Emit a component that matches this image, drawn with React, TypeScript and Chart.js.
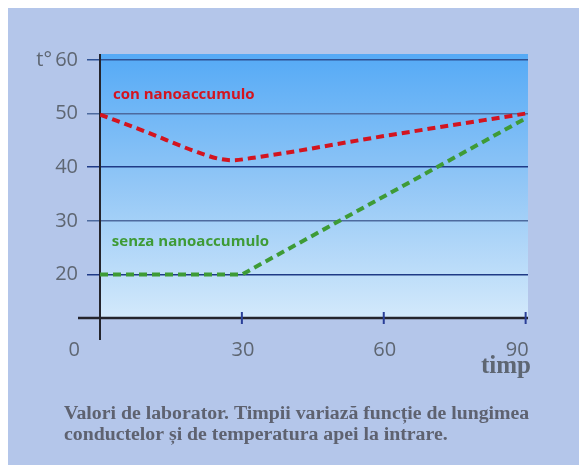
import React, { useEffect, useRef } from "react";
import { Chart, registerables } from "chart.js";

Chart.register(...registerables);

// ---- data ----
const conX = [0, 10, 20, 25, 28, 32, 60, 90];
const conY = [49.8, 46.5, 43.0, 41.6, 41.3, 41.7, 45.8, 50];
const senzaX = [0, 30, 90];
const senzaY = [20, 20, 49.1];
const yTicks = [20, 30, 40, 50, 60];
const xTicks = [0, 30, 60, 90];
const seriesNames = ["con nanoaccumulo", "senza nanoaccumulo"];
const yTitle = "t°";
const xTitle = "timp";
const captionLines = [
  "Valori de laborator. Timpii variază funcție de lungimea",
  "conductelor și de temperatura apei la intrare.",
];

const W = 571;
const H = 457;
const LABEL_GRAY = "#5e6672";
const RED = "#d3141f";
const GREEN = "#3e9b36";

const gridColors: Record<number, string> = {
  20: "#1f3a86",
  30: "#4d6a9e",
  40: "#1f3a86",
  50: "#4d6a9e",
  60: "#2f5294",
};

const decorPlugin = {
  id: "decor",
  beforeDraw(chart: any) {
    const { ctx, chartArea } = chart;
    const g = ctx.createLinearGradient(0, chartArea.top, 0, chartArea.bottom);
    g.addColorStop(0, "#55aaf6");
    g.addColorStop(0.5, "#93c7f6");
    g.addColorStop(1, "#d3e9fb");
    ctx.save();
    ctx.fillStyle = g;
    ctx.fillRect(chartArea.left, chartArea.top, chartArea.right - chartArea.left, chartArea.bottom - chartArea.top);
    ctx.restore();
  },
  beforeDatasetsDraw(chart: any) {
    const { ctx, chartArea, scales } = chart;
    const xs = scales.x;
    ctx.save();
    // y axis line
    ctx.strokeStyle = "#24242c";
    ctx.lineWidth = 2;
    ctx.beginPath();
    ctx.moveTo(chartArea.left, chartArea.top);
    ctx.lineTo(chartArea.left, chartArea.bottom + 22);
    ctx.stroke();
    // x axis line
    ctx.lineWidth = 2.5;
    ctx.beginPath();
    ctx.moveTo(chartArea.left - 22, chartArea.bottom);
    ctx.lineTo(chartArea.right, chartArea.bottom);
    ctx.stroke();
    // x tick marks
    ctx.strokeStyle = "#2a3f98";
    ctx.lineWidth = 2;
    xTicks.forEach((v) => {
      if (v === 0) return;
      const px = xs.getPixelForValue(v);
      ctx.beginPath();
      ctx.moveTo(px, chartArea.bottom - 6);
      ctx.lineTo(px, chartArea.bottom + 6);
      ctx.stroke();
    });
    ctx.restore();
  },
  afterDraw(chart: any) {
    const { ctx, chartArea, scales } = chart;
    const xs = scales.x;
    const ys = scales.y;
    ctx.save();
    // x tick labels
    ctx.font = '20px "Open Sans"';
    ctx.fillStyle = LABEL_GRAY;
    ctx.textBaseline = "alphabetic";
    const baseY = chartArea.bottom + 38;
    xTicks.forEach((v, i) => {
      const px = xs.getPixelForValue(v);
      if (i === 0) {
        ctx.textAlign = "right";
        ctx.fillText(String(v), px - 20, baseY);
      } else if (i === xTicks.length - 1) {
        ctx.textAlign = "right";
        ctx.fillText(String(v), px + 3, baseY);
      } else {
        ctx.textAlign = "center";
        ctx.fillText(String(v), px + 1, baseY);
      }
    });
    // y title
    ctx.textAlign = "right";
    ctx.fillText(yTitle, chartArea.left - 48, ys.getPixelForValue(60) + 6);
    // x title
    ctx.font = 'bold 25px "Liberation Serif"';
    ctx.textAlign = "right";
    ctx.fillText(xTitle, chartArea.right + 3, chartArea.bottom + 55);
    // series labels
    ctx.font = 'bold 15px "Open Sans"';
    ctx.textAlign = "left";
    ctx.textBaseline = "middle";
    ctx.fillStyle = RED;
    ctx.fillText(seriesNames[0], xs.getPixelForValue(2.75), ys.getPixelForValue(53.6));
    ctx.fillStyle = GREEN;
    ctx.fillText(seriesNames[1], xs.getPixelForValue(2.5), ys.getPixelForValue(26.1));
    // caption
    ctx.font = 'bold 19.8px "Liberation Serif"';
    ctx.fillStyle = "#5e6270";
    ctx.textBaseline = "alphabetic";
    captionLines.forEach((line, i) => {
      ctx.fillText(line, 56, 411 + i * 21);
    });
    ctx.restore();
  },
};

export default function App() {
  const ref = useRef<HTMLCanvasElement>(null);
  useEffect(() => {
    if (!ref.current) return;
    const chart = new Chart(ref.current, {
      type: "line",
      data: {
        datasets: [
          {
            label: seriesNames[0],
            data: conX.map((x, i) => ({ x, y: conY[i] })),
            borderColor: RED,
            borderWidth: 4,
            borderDash: [8, 5],
            cubicInterpolationMode: "monotone",
            pointRadius: 0,
            fill: false,
          },
          {
            label: seriesNames[1],
            data: senzaX.map((x, i) => ({ x, y: senzaY[i] })),
            borderColor: GREEN,
            borderWidth: 4,
            borderDash: [8, 5],
            tension: 0,
            pointRadius: 0,
            fill: false,
          },
        ],
      },
      options: {
        responsive: false,
        maintainAspectRatio: false,
        animation: false,
        layout: { padding: { top: 46, right: 51, bottom: 147, left: 0 } },
        plugins: { legend: { display: false }, tooltip: { enabled: false } },
        scales: {
          x: {
            type: "linear",
            min: 0,
            max: 90.5,
            display: false,
          },
          y: {
            type: "linear",
            min: 11.9,
            max: 61.1,
            afterBuildTicks: (scale: any) => {
              scale.ticks = yTicks.map((v) => ({ value: v }));
            },
            afterFit: (scale: any) => {
              scale.width = 92;
            },
            border: { display: false },
            grid: {
              color: (c: any) => gridColors[c.tick?.value] || "#2f5294",
              lineWidth: 1.5,
              tickLength: 13,
              drawTicks: true,
            },
            ticks: {
              padding: 9,
              color: LABEL_GRAY,
              font: { family: "Open Sans", size: 20 },
            },
          },
        },
      },
      plugins: [decorPlugin],
    });
    return () => chart.destroy();
  }, []);
  return (
    <div
      style={{
        position: "fixed",
        left: 8,
        top: 8,
        right: 0,
        bottom: 0,
        background: "#b4c6ea",
      }}
    >
      <canvas ref={ref} width={W} height={H} style={{ display: "block" }} />
    </div>
  );
}
